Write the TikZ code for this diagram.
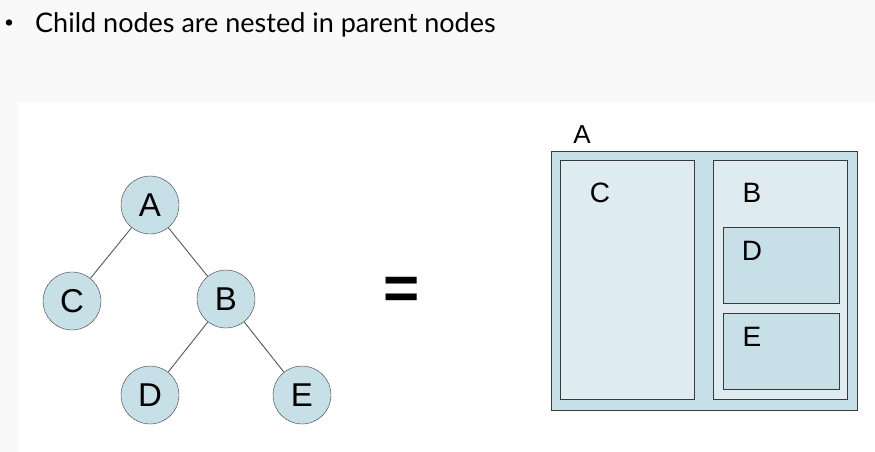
\documentclass[tikz,border=0pt]{standalone}
\usepackage{fontspec}
\setmainfont{Liberation Sans}
\newfontfamily\titlefont{Lato}
\definecolor{nodeblue}{HTML}{C7DFE7}
\definecolor{paleblue}{HTML}{DEEBF0}
\definecolor{edgegray}{HTML}{3A3A3A}
\tikzset{
  treenode/.style={circle,draw=edgegray,fill=nodeblue,minimum size=58pt,inner sep=0pt,font=\fontsize{33}{36}\selectfont},
  nestbox/.style={draw=edgegray,line width=0.9pt},
  boxlabel/.style={font=\fontsize{28}{31}\selectfont}
}
\begin{document}
\begin{tikzpicture}[x=1pt,y=-1pt]
                \useasboundingbox (0,0) rectangle (875,452);
                \fill[black!2.5] (0,0) rectangle (875,452); % slide background
                \fill[white] (18,102) rectangle (875,452);
                \node[anchor=base west,inner sep=0pt,font=\titlefont\fontsize{27}{30}\selectfont] (title) at (35,33) {Child nodes are nested in parent nodes};
                \fill (9,22.5) circle (3.2pt); % bullet
                % the tree
                \node[treenode] (A) at (150,205) {A};
                \node[treenode] (C) at (72,301) {C};
                \node[treenode] (B) at (226,299) {B};
                \node[treenode] (D) at (150,395) {D};
                \node[treenode] (E) at (302,395) {E};
                \foreach \p/\c in {A/C,A/B,B/D,B/E}
                \draw[edgegray!85,line width=0.9pt] (\p) -- (\c);
                \node[font=\bfseries\fontsize{62}{62}\selectfont] (eq) at (402,293) {=};
                % the nested boxes
                \draw[nestbox,fill=nodeblue] (551,151) rectangle (857,410);
                \draw[nestbox,fill=paleblue] (560,160) rectangle (694,399);
                \draw[nestbox,fill=paleblue] (713,160) rectangle (847,399);
                \draw[nestbox,fill=nodeblue] (723,227) rectangle (839,303);
                \draw[nestbox,fill=nodeblue] (723,313) rectangle (839,389);
                \node[boxlabel,font=\fontsize{26}{29}\selectfont] (lA) at (582,135) {A};
                \node[boxlabel] (lC) at (600,193) {C};
                \node[boxlabel] (lB) at (752,193) {B};
                \node[boxlabel] (lD) at (752,251) {D};
                \node[boxlabel] (lE) at (752,337) {E};
\end{tikzpicture}
\end{document}
